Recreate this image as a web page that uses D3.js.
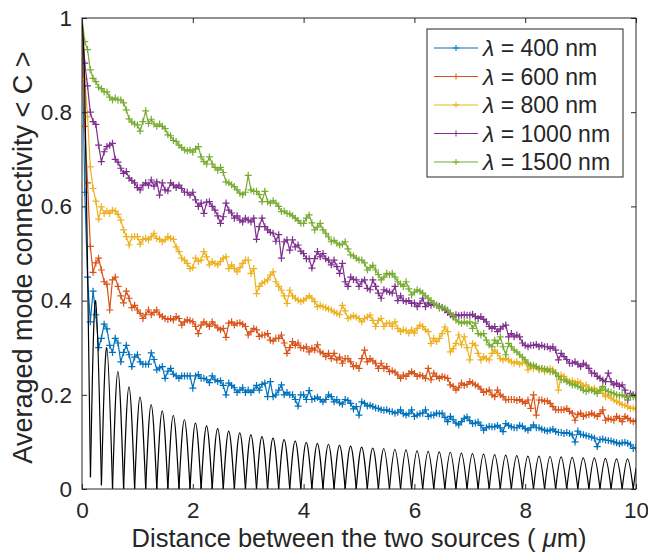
<!DOCTYPE html>
<html lang="en">
<head>
<meta charset="UTF-8">
<script src="https://d3js.org/d3.v7.min.js"></script>
<style>
  body { margin: 0; background: #fff; }
  svg text { font-family: "Liberation Sans", Arial, Helvetica, sans-serif; fill: #262626; }
</style>
</head>
<body>
<svg id="chart" width="648" height="555"></svg>
<script>
// sampling grid of the simulations: 0 .. 10 um every 0.05 um
const distance = d3.range(0, 201).map(i => i / 20);

const xTicks = [0, 2, 4, 6, 8, 10];
const yTicks = [0, 0.2, 0.4, 0.6, 0.8, 1];

const wavelengths = ["400", "600", "800", "1000", "1500"];
const seriesColors = ["#0072BD", "#D95319", "#EDB120", "#7E2F8E", "#77AC30"];

// one row per micrometre (20 samples), last row has 21
const c400 = [
  1.0, 0.63, 0.45, 0.355, 0.42, 0.37, 0.30, 0.32, 0.35, 0.34, 0.305, 0.29, 0.32, 0.31, 0.27, 0.29, 0.305, 0.285, 0.26, 0.28,
  0.285, 0.27, 0.265, 0.265, 0.265, 0.289, 0.275, 0.253, 0.257, 0.26, 0.235, 0.25, 0.256, 0.244, 0.24, 0.235, 0.24, 0.24, 0.24, 0.24,
  0.214, 0.24, 0.243, 0.235, 0.235, 0.232, 0.226, 0.24, 0.232, 0.228, 0.23, 0.22, 0.2, 0.225, 0.22, 0.215, 0.205, 0.21, 0.215, 0.205,
  0.21, 0.205, 0.21, 0.22, 0.21, 0.222, 0.225, 0.196, 0.228, 0.196, 0.2, 0.21, 0.221, 0.2, 0.205, 0.2, 0.2, 0.19, 0.176, 0.2,
  0.2, 0.19, 0.209, 0.19, 0.192, 0.195, 0.19, 0.185, 0.19, 0.2, 0.196, 0.185, 0.19, 0.183, 0.18, 0.19, 0.188, 0.182, 0.17, 0.175,
  0.157, 0.185, 0.182, 0.176, 0.178, 0.175, 0.172, 0.171, 0.168, 0.167, 0.168, 0.165, 0.164, 0.161, 0.163, 0.168, 0.16, 0.157, 0.16, 0.168,
  0.154, 0.157, 0.16, 0.161, 0.168, 0.154, 0.157, 0.157, 0.161, 0.16, 0.161, 0.152, 0.143, 0.154, 0.147, 0.14, 0.136, 0.143, 0.15, 0.153,
  0.145, 0.139, 0.14, 0.142, 0.135, 0.125, 0.13, 0.133, 0.132, 0.132, 0.135, 0.13, 0.122, 0.139, 0.135, 0.132, 0.13, 0.13, 0.135, 0.133,
  0.128, 0.125, 0.13, 0.136, 0.13, 0.13, 0.127, 0.125, 0.123, 0.125, 0.127, 0.122, 0.12, 0.12, 0.118, 0.12, 0.118, 0.115, 0.1, 0.123,
  0.116, 0.115, 0.113, 0.112, 0.11, 0.108, 0.09, 0.105, 0.106, 0.104, 0.103, 0.102, 0.1, 0.098, 0.096, 0.098, 0.099, 0.097, 0.094, 0.086, 0.088
];
const c600 = [
  1.0, 0.77, 0.65, 0.515, 0.46, 0.48, 0.49, 0.465, 0.44, 0.435, 0.38, 0.444, 0.45, 0.43, 0.41, 0.395, 0.42, 0.405, 0.385, 0.39,
  0.38, 0.373, 0.362, 0.37, 0.38, 0.37, 0.375, 0.38, 0.37, 0.366, 0.362, 0.36, 0.362, 0.359, 0.366, 0.362, 0.348, 0.355, 0.359, 0.357,
  0.355, 0.345, 0.33, 0.348, 0.355, 0.35, 0.345, 0.355, 0.348, 0.342, 0.338, 0.341, 0.322, 0.352, 0.355, 0.348, 0.352, 0.353, 0.35, 0.345,
  0.327, 0.334, 0.341, 0.338, 0.324, 0.327, 0.327, 0.33, 0.316, 0.314, 0.32, 0.32, 0.327, 0.31, 0.288, 0.3, 0.313, 0.305, 0.31, 0.3,
  0.299, 0.302, 0.291, 0.299, 0.295, 0.306, 0.291, 0.288, 0.281, 0.288, 0.277, 0.288, 0.274, 0.28, 0.267, 0.277, 0.277, 0.27, 0.26, 0.262,
  0.256, 0.277, 0.295, 0.27, 0.277, 0.272, 0.267, 0.256, 0.267, 0.256, 0.26, 0.249, 0.251, 0.248, 0.242, 0.235, 0.242, 0.239, 0.245, 0.249,
  0.245, 0.239, 0.242, 0.24, 0.235, 0.256, 0.232, 0.246, 0.239, 0.235, 0.239, 0.237, 0.235, 0.221, 0.218, 0.21, 0.215, 0.225, 0.22, 0.222,
  0.228, 0.225, 0.221, 0.218, 0.212, 0.205, 0.207, 0.21, 0.2, 0.196, 0.21, 0.2, 0.196, 0.189, 0.19, 0.19, 0.19, 0.188, 0.19, 0.186,
  0.182, 0.189, 0.171, 0.2, 0.157, 0.189, 0.189, 0.186, 0.187, 0.182, 0.175, 0.168, 0.168, 0.168, 0.168, 0.171, 0.165, 0.161, 0.146, 0.158,
  0.161, 0.154, 0.157, 0.158, 0.161, 0.157, 0.154, 0.16, 0.168, 0.146, 0.15, 0.148, 0.146, 0.154, 0.15, 0.143, 0.154, 0.15, 0.146, 0.143, 0.145
];
const c800 = [
  1.0, 0.87, 0.79, 0.684, 0.638, 0.611, 0.573, 0.599, 0.585, 0.59, 0.585, 0.592, 0.59, 0.583, 0.571, 0.55, 0.536, 0.518, 0.535, 0.536,
  0.536, 0.52, 0.53, 0.532, 0.529, 0.536, 0.543, 0.532, 0.53, 0.525, 0.529, 0.536, 0.532, 0.53, 0.514, 0.504, 0.49, 0.486, 0.479, 0.468,
  0.47, 0.49, 0.483, 0.486, 0.504, 0.493, 0.476, 0.483, 0.479, 0.476, 0.483, 0.49, 0.493, 0.468, 0.476, 0.468, 0.461, 0.47, 0.479, 0.486,
  0.486, 0.458, 0.468, 0.415, 0.43, 0.437, 0.44, 0.444, 0.454, 0.461, 0.44, 0.43, 0.422, 0.41, 0.394, 0.422, 0.41, 0.405, 0.401, 0.398,
  0.401, 0.405, 0.41, 0.405, 0.398, 0.387, 0.39, 0.387, 0.385, 0.382, 0.38, 0.376, 0.373, 0.37, 0.39, 0.378, 0.362, 0.365, 0.368, 0.365,
  0.362, 0.355, 0.362, 0.365, 0.369, 0.358, 0.345, 0.358, 0.362, 0.345, 0.352, 0.352, 0.345, 0.355, 0.341, 0.334, 0.338, 0.336, 0.331, 0.338,
  0.331, 0.341, 0.348, 0.345, 0.338, 0.334, 0.309, 0.32, 0.313, 0.32, 0.33, 0.344, 0.334, 0.291, 0.298, 0.309, 0.327, 0.306, 0.323, 0.3,
  0.274, 0.309, 0.305, 0.288, 0.274, 0.281, 0.277, 0.274, 0.288, 0.295, 0.288, 0.277, 0.274, 0.277, 0.274, 0.27, 0.267, 0.27, 0.265, 0.268,
  0.27, 0.253, 0.26, 0.256, 0.26, 0.253, 0.256, 0.249, 0.253, 0.256, 0.253, 0.246, 0.21, 0.242, 0.239, 0.232, 0.228, 0.23, 0.225, 0.228,
  0.225, 0.218, 0.221, 0.214, 0.21, 0.214, 0.207, 0.21, 0.203, 0.196, 0.2, 0.193, 0.189, 0.186, 0.183, 0.179, 0.178, 0.175, 0.171, 0.172, 0.17
];
const c1000 = [
  1.0, 0.904, 0.856, 0.80, 0.78, 0.774, 0.73, 0.695, 0.716, 0.727, 0.73, 0.734, 0.70, 0.694, 0.681, 0.67, 0.674, 0.66, 0.655, 0.65,
  0.64, 0.635, 0.645, 0.65, 0.645, 0.656, 0.643, 0.652, 0.624, 0.65, 0.635, 0.633, 0.65, 0.645, 0.64, 0.645, 0.638, 0.63, 0.63, 0.624,
  0.63, 0.614, 0.60, 0.607, 0.585, 0.609, 0.61, 0.60, 0.592, 0.58, 0.564, 0.578, 0.607, 0.592, 0.586, 0.575, 0.58, 0.571, 0.567, 0.575,
  0.571, 0.567, 0.575, 0.53, 0.557, 0.575, 0.557, 0.55, 0.545, 0.543, 0.526, 0.54, 0.49, 0.525, 0.529, 0.507, 0.529, 0.514, 0.518, 0.505,
  0.50, 0.489, 0.489, 0.469, 0.489, 0.504, 0.493, 0.50, 0.489, 0.486, 0.476, 0.486, 0.472, 0.458, 0.479, 0.44, 0.43, 0.45, 0.445, 0.444,
  0.43, 0.44, 0.444, 0.426, 0.423, 0.444, 0.43, 0.416, 0.405, 0.423, 0.42, 0.418, 0.416, 0.43, 0.40, 0.41, 0.40, 0.398, 0.40, 0.394,
  0.395, 0.387, 0.394, 0.405, 0.387, 0.395, 0.39, 0.392, 0.39, 0.388, 0.385, 0.38, 0.375, 0.37, 0.366, 0.37, 0.368, 0.369, 0.37, 0.369,
  0.369, 0.371, 0.366, 0.362, 0.366, 0.36, 0.355, 0.345, 0.341, 0.345, 0.334, 0.34, 0.345, 0.348, 0.323, 0.33, 0.323, 0.327, 0.323, 0.31,
  0.305, 0.302, 0.305, 0.305, 0.307, 0.302, 0.305, 0.302, 0.302, 0.298, 0.302, 0.295, 0.274, 0.288, 0.281, 0.275, 0.267, 0.267, 0.27, 0.265,
  0.26, 0.267, 0.263, 0.256, 0.246, 0.246, 0.239, 0.235, 0.231, 0.228, 0.246, 0.228, 0.221, 0.225, 0.218, 0.221, 0.21, 0.189, 0.203, 0.2, 0.198
];
const c1500 = [
  1.0, 0.95, 0.933, 0.89, 0.872, 0.865, 0.853, 0.85, 0.843, 0.843, 0.832, 0.826, 0.83, 0.826, 0.826, 0.82, 0.805, 0.786, 0.779, 0.775,
  0.773, 0.76, 0.78, 0.803, 0.776, 0.785, 0.775, 0.77, 0.775, 0.77, 0.765, 0.752, 0.75, 0.74, 0.738, 0.73, 0.725, 0.72, 0.718, 0.72,
  0.715, 0.722, 0.727, 0.705, 0.695, 0.69, 0.705, 0.69, 0.683, 0.677, 0.683, 0.672, 0.652, 0.65, 0.646, 0.642, 0.635, 0.628, 0.625, 0.63,
  0.666, 0.635, 0.632, 0.632, 0.625, 0.61, 0.632, 0.61, 0.607, 0.612, 0.607, 0.60, 0.589, 0.59, 0.585, 0.584, 0.58, 0.575, 0.57, 0.564,
  0.564, 0.575, 0.582, 0.565, 0.55, 0.556, 0.564, 0.55, 0.543, 0.535, 0.525, 0.528, 0.522, 0.518, 0.52, 0.525, 0.51, 0.497, 0.495, 0.49,
  0.486, 0.486, 0.48, 0.465, 0.47, 0.475, 0.465, 0.455, 0.444, 0.45, 0.458, 0.455, 0.458, 0.45, 0.44, 0.435, 0.43, 0.44, 0.425, 0.412,
  0.418, 0.423, 0.42, 0.416, 0.41, 0.405, 0.4, 0.394, 0.39, 0.384, 0.386, 0.384, 0.38, 0.374, 0.368, 0.359, 0.355, 0.352, 0.355, 0.352,
  0.355, 0.341, 0.352, 0.33, 0.327, 0.33, 0.316, 0.306, 0.302, 0.316, 0.309, 0.323, 0.302, 0.285, 0.309, 0.302, 0.295, 0.291, 0.285, 0.28,
  0.274, 0.267, 0.263, 0.263, 0.26, 0.256, 0.256, 0.255, 0.253, 0.249, 0.249, 0.246, 0.239, 0.232, 0.232, 0.228, 0.225, 0.221, 0.221, 0.218,
  0.215, 0.21, 0.207, 0.21, 0.21, 0.207, 0.203, 0.21, 0.218, 0.21, 0.207, 0.205, 0.203, 0.2, 0.198, 0.2, 0.196, 0.195, 0.197, 0.196, 0.195
];
const seriesValues = [c400, c600, c800, c1000, c1500];

// black reference curve: main lobe, then zeros and lobe tops
const refCurve = [
  [0, 1], [0.05, 0.85], [0.10, 0.47], [0.153, 0.025],
  [0.245, 0.40], [0.351, 0.008], [0.447, 0.30], [0.551, 0], [0.648, 0.249], [0.751, 0], [0.848, 0.217], [0.95, 0],
  [1.048, 0.195], [1.15, 0], [1.248, 0.179], [1.35, 0], [1.448, 0.166], [1.55, 0], [1.648, 0.156], [1.75, 0], [1.848, 0.147], [1.95, 0],
  [2.048, 0.14], [2.15, 0], [2.248, 0.134], [2.35, 0], [2.448, 0.128], [2.55, 0], [2.648, 0.123], [2.75, 0], [2.848, 0.119], [2.95, 0],
  [3.048, 0.115], [3.15, 0], [3.248, 0.111], [3.35, 0], [3.448, 0.108], [3.55, 0], [3.648, 0.105], [3.75, 0], [3.848, 0.102], [3.95, 0],
  [4.048, 0.099], [4.15, 0], [4.248, 0.097], [4.35, 0], [4.448, 0.095], [4.55, 0], [4.648, 0.093], [4.75, 0], [4.848, 0.091], [4.95, 0],
  [5.048, 0.089], [5.15, 0], [5.248, 0.087], [5.35, 0], [5.448, 0.086], [5.55, 0], [5.648, 0.084], [5.75, 0], [5.848, 0.083], [5.95, 0],
  [6.048, 0.081], [6.15, 0], [6.248, 0.08], [6.35, 0], [6.448, 0.079], [6.55, 0], [6.648, 0.078], [6.75, 0], [6.848, 0.076], [6.95, 0],
  [7.048, 0.075], [7.15, 0], [7.248, 0.074], [7.35, 0], [7.448, 0.073], [7.55, 0], [7.648, 0.072], [7.75, 0], [7.848, 0.071], [7.95, 0],
  [8.048, 0.07], [8.15, 0], [8.248, 0.07], [8.35, 0], [8.448, 0.069], [8.55, 0], [8.648, 0.068], [8.75, 0], [8.848, 0.067], [8.95, 0],
  [9.048, 0.066], [9.15, 0], [9.248, 0.066], [9.35, 0], [9.448, 0.065], [9.55, 0], [9.648, 0.064], [9.75, 0], [9.848, 0.064], [9.95, 0],
  [10, 0.045]
];

const axisColor = "#262626";
const tickFont = "22.5px", legendFont = "23px";

const svg = d3.select("#chart");
const x = d3.scaleLinear().domain([0, 10]).range([82, 636]);
const y = d3.scaleLinear().domain([0, 1]).range([489, 18]);

svg.append("clipPath").attr("id", "plotClip")
  .append("rect")
  .attr("x", x(0)).attr("y", y(1))
  .attr("width", x(10) - x(0)).attr("height", y(0) - y(1));

const plot = svg.append("g").attr("clip-path", "url(#plotClip)");

// colored series with + markers
const line = d3.line().x(d => x(d[0])).y(d => y(d[1]));
seriesValues.forEach((vals, i) => {
  const pts = vals.map((v, j) => [distance[j], v]);
  plot.append("path")
    .attr("d", line(pts))
    .attr("fill", "none")
    .attr("stroke", seriesColors[i])
    .attr("stroke-width", 1.2);
  const m = 3.5;
  plot.append("path")
    .attr("d", pts.map(p => {
      const px = x(p[0]), py = y(p[1]);
      return `M${px - m},${py}h${2 * m}M${px},${py - m}v${2 * m}`;
    }).join(""))
    .attr("fill", "none")
    .attr("stroke", seriesColors[i])
    .attr("stroke-width", 1.2);
});

// black curve: split into lobes at the minima, each lobe smoothed
const lobes = [];
let cur = [refCurve[0]];
for (let k = 1; k < refCurve.length; k++) {
  cur.push(refCurve[k]);
  const isMin = k < refCurve.length - 1 &&
    refCurve[k][1] <= refCurve[k - 1][1] && refCurve[k][1] <= refCurve[k + 1][1];
  if (isMin) { lobes.push(cur); cur = [refCurve[k]]; }
}
if (cur.length > 1) lobes.push(cur);

const lobeLine = d3.line().x(d => x(d[0])).y(d => y(d[1])).curve(d3.curveNatural);
plot.selectAll("path.lobe")
  .data(lobes)
  .enter()
  .append("path")
  .attr("class", "lobe")
  .attr("d", lobeLine)
  .attr("fill", "none")
  .attr("stroke", "#000")
  .attr("stroke-width", 1.2);

// axes (MATLAB style: ticks inside, box on)
function styleAxis(g) {
  g.attr("font-size", null).attr("font-family", null);
  g.select(".domain").remove();
  g.selectAll(".tick line").attr("stroke", axisColor);
  g.selectAll(".tick text").style("font-size", tickFont).attr("fill", axisColor);
}

svg.append("g")
  .attr("transform", `translate(0,${y(0)})`)
  .call(d3.axisBottom(x).tickValues(xTicks).tickSize(-5).tickPadding(13).tickFormat(d3.format("d")))
  .call(styleAxis);
svg.append("g")
  .attr("transform", `translate(0,${y(1)})`)
  .call(d3.axisTop(x).tickValues(xTicks).tickSize(-5).tickFormat(() => ""))
  .call(styleAxis);
svg.append("g")
  .attr("transform", `translate(${x(0)},0)`)
  .call(d3.axisLeft(y).tickValues(yTicks).tickSize(-5).tickPadding(10).tickFormat(d3.format("")))
  .call(styleAxis);
svg.append("g")
  .attr("transform", `translate(${x(10)},0)`)
  .call(d3.axisRight(y).tickValues(yTicks).tickSize(-5).tickFormat(() => ""))
  .call(styleAxis);

svg.append("rect")
  .attr("x", x(0)).attr("y", y(1))
  .attr("width", x(10) - x(0)).attr("height", y(0) - y(1))
  .attr("fill", "none").attr("stroke", axisColor).attr("stroke-width", 1);

// axis titles
const xTitle = svg.append("text")
  .attr("x", (x(0) + x(10)) / 2).attr("y", 547)
  .attr("text-anchor", "middle")
  .style("font-size", "25.5px");
xTitle.append("tspan").text("Distance between the two sources ( ");
xTitle.append("tspan").style("font-style", "italic").text("μ");
xTitle.append("tspan").text("m)");

svg.append("text")
  .attr("transform", `translate(32,${(y(0) + y(1)) / 2 + 4}) rotate(-90)`)
  .attr("text-anchor", "middle")
  .style("font-size", "27px")
  .text("Averaged mode connectivity < C >");

// legend
const legend = svg.append("g");
legend.append("rect")
  .attr("x", 427).attr("y", 29).attr("width", 196).attr("height", 148)
  .attr("fill", "#fff").attr("stroke", axisColor).attr("stroke-width", 1);

wavelengths.forEach((wl, i) => {
  const ly = 48 + i * 28.5;
  const row = legend.append("g");
  row.append("line")
    .attr("x1", 434).attr("x2", 478).attr("y1", ly).attr("y2", ly)
    .attr("stroke", seriesColors[i]).attr("stroke-width", 1.2);
  row.append("path")
    .attr("d", `M453,${ly}h6M456,${ly - 3}v6`)
    .attr("stroke", seriesColors[i]).attr("stroke-width", 1);
  const t = row.append("text")
    .attr("x", 483).attr("y", ly).attr("dy", "0.36em")
    .style("font-size", legendFont);
  t.append("tspan").style("font-style", "italic").text("λ");
  t.append("tspan").text(` = ${wl} nm`);
});
</script>
</body>
</html>
